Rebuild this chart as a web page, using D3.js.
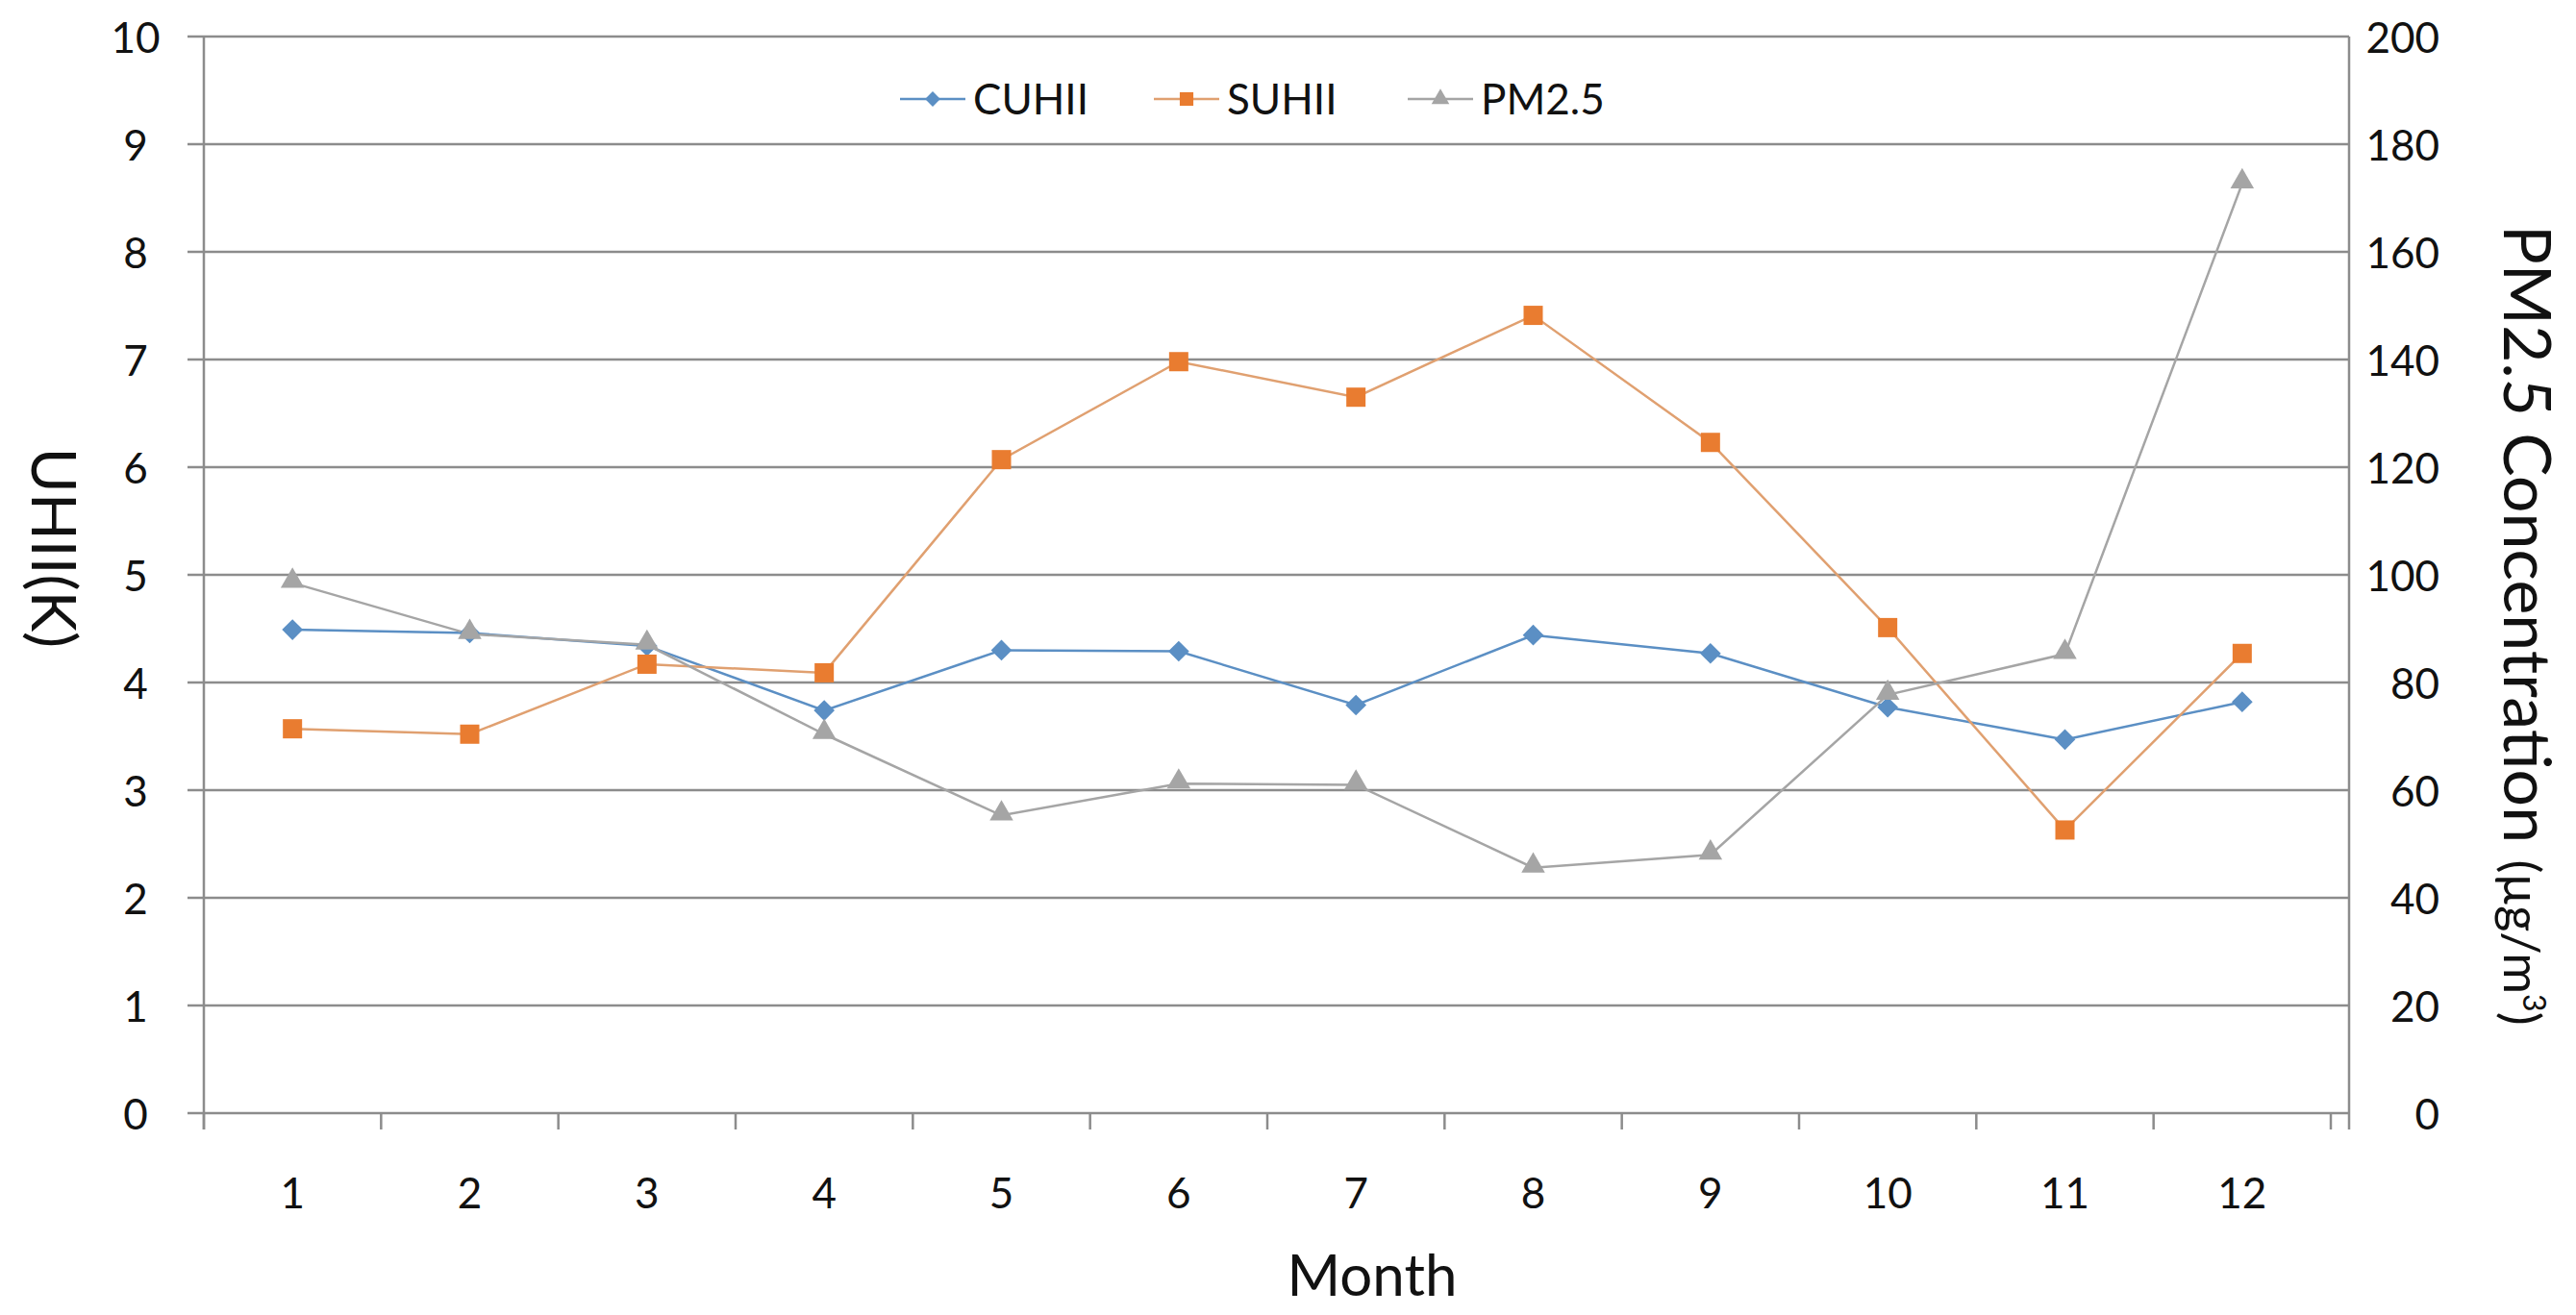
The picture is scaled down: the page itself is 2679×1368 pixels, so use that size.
<!DOCTYPE html>
<html>

<head>
    <script src="https://d3js.org/d3.v7.min.js"></script>
    <meta charset="utf-8">
    <style>
        body { margin: 0; background: #fff; }
        text { font-family: Lato, "Open Sans", sans-serif; fill: #111; }
    </style>
</head>

<body>
    <script>
        // values
        var months = [1, 2, 3, 4, 5, 6, 7, 8, 9, 10, 11, 12];
        var cuhii = [4.49, 4.46, 4.34, 3.74, 4.30, 4.29, 3.79, 4.44, 4.27, 3.77, 3.47, 3.82];
        var suhii = [3.57, 3.52, 4.17, 4.09, 6.07, 6.98, 6.65, 7.41, 6.23, 4.51, 2.63, 4.27];
        var pm25 = [98.5, 89.0, 87.0, 70.4, 55.3, 61.2, 61.0, 45.6, 48.0, 77.7, 85.3, 172.7];
        var leftTicks = [0, 1, 2, 3, 4, 5, 6, 7, 8, 9, 10];
        var rightTicks = [0, 20, 40, 60, 80, 100, 120, 140, 160, 180, 200];
        var seriesNames = ["CUHII", "SUHII", "PM2.5"];
        var seriesColors = ["#5b8fc4", "#e97c30", "#a5a5a5"];

        var width = 2679;
        var height = 1368;

        // plot box (note: "top" is taken by window.top, so use plot* names)
        var plotLeft = 212, plotRight = 2443, plotTop = 38, plotBottom = 1158;
        var catRight = 2424;
        var gridColor = "#8c8c8c";

        var svg = d3.select("body")
            .append("svg")
            .attr("width", width)
            .attr("height", height);

        var x = d3.scaleBand().domain(months).range([plotLeft, catRight]);
        var yL = d3.scaleLinear().domain([0, 10]).range([plotBottom, plotTop]);
        var yR = d3.scaleLinear().domain([0, 200]).range([plotBottom, plotTop]);

        // gridlines
        svg.append("g")
            .selectAll("line")
            .data(leftTicks)
            .enter()
            .append("line")
            .attr("x1", plotLeft - 17)
            .attr("x2", plotRight)
            .attr("y1", d => yL(d))
            .attr("y2", d => yL(d))
            .style("stroke", gridColor)
            .style("stroke-width", 2.5);

        // left axis labels
        var gLeft = svg.append("g")
            .attr("transform", "translate(" + plotLeft + ",0)")
            .call(d3.axisLeft(yL).tickValues(leftTicks).tickSize(0).tickFormat(d3.format("d")));
        gLeft.select(".domain").remove();
        gLeft.selectAll("text")
            .attr("x", 141 - plotLeft)
            .attr("dy", "0.38em")
            .attr("text-anchor", "middle")
            .style("font-size", "44px")
            .style("font-family", "Lato, sans-serif")
            .style("fill", "#111");

        // right axis labels
        var gRight = svg.append("g")
            .attr("transform", "translate(" + plotRight + ",0)")
            .call(d3.axisRight(yR).tickValues(rightTicks).tickSize(0).tickFormat(d3.format("d")));
        gRight.select(".domain").remove();
        gRight.selectAll("text")
            .attr("x", 2537 - plotRight)
            .attr("dy", "0.38em")
            .attr("text-anchor", "end")
            .style("font-size", "44px")
            .style("font-family", "Lato, sans-serif")
            .style("fill", "#111");

        // bottom axis labels at category centres
        var gBottom = svg.append("g")
            .attr("transform", "translate(0," + plotBottom + ")")
            .call(d3.axisBottom(x).tickSize(0));
        gBottom.select(".domain").remove();
        gBottom.selectAll("text")
            .attr("y", 82)
            .attr("dy", "0.38em")
            .style("font-size", "44px")
            .style("font-family", "Lato, sans-serif")
            .style("fill", "#111");

        // tick marks between categories
        svg.append("g")
            .selectAll("line")
            .data(d3.range(months.length + 1))
            .enter()
            .append("line")
            .attr("x1", d => plotLeft + d * x.step())
            .attr("x2", d => plotLeft + d * x.step())
            .attr("y1", plotBottom)
            .attr("y2", plotBottom + 17)
            .style("stroke", gridColor)
            .style("stroke-width", 2.5);

        // axis lines
        svg.append("line")
            .attr("x1", plotLeft).attr("x2", plotLeft)
            .attr("y1", plotTop).attr("y2", plotBottom + 17)
            .style("stroke", gridColor).style("stroke-width", 2.5);
        svg.append("line")
            .attr("x1", plotRight).attr("x2", plotRight)
            .attr("y1", plotTop).attr("y2", plotBottom + 17)
            .style("stroke", gridColor).style("stroke-width", 2.5);

        var cx = d => x(d) + x.bandwidth() / 2;

        // series lines
        function drawLine(values, scale, color) {
            var line = d3.line()
                .x((d, i) => cx(months[i]))
                .y(d => scale(d));
            svg.append("path")
                .datum(values)
                .attr("d", line)
                .style("fill", "none")
                .style("stroke", color)
                .style("stroke-width", 2.5);
        }
        drawLine(cuhii, yL, seriesColors[0]);
        drawLine(suhii, yL, "#e0a070");
        drawLine(pm25, yR, seriesColors[2]);

        // markers
        var diamond = d3.symbol().type(d3.symbolDiamond2).size(300);
        var square = d3.symbol().type(d3.symbolSquare).size(400);
        var triangle = d3.symbol().type(d3.symbolTriangle).size(260);

        svg.append("g").selectAll("path")
            .data(cuhii).enter().append("path")
            .attr("d", diamond)
            .attr("transform", (d, i) => "translate(" + cx(months[i]) + "," + yL(d) + ")")
            .style("fill", seriesColors[0]);

        svg.append("g").selectAll("path")
            .data(suhii).enter().append("path")
            .attr("d", square)
            .attr("transform", (d, i) => "translate(" + cx(months[i]) + "," + yL(d) + ")")
            .style("fill", seriesColors[1]);

        svg.append("g").selectAll("path")
            .data(pm25).enter().append("path")
            .attr("d", triangle)
            .attr("transform", (d, i) => "translate(" + cx(months[i]) + "," + (yR(d) - 2) + ")")
            .style("fill", seriesColors[2]);

        // legend
        var legendX = [936, 1200, 1464];
        var legendShapes = [
            d3.symbol().type(d3.symbolDiamond2).size(160),
            d3.symbol().type(d3.symbolSquare).size(200),
            d3.symbol().type(d3.symbolTriangle).size(150)
        ];
        var legend = svg.append("g")
            .selectAll("g")
            .data(seriesNames)
            .enter()
            .append("g")
            .attr("transform", (d, i) => "translate(" + legendX[i] + ",103)");
        legend.append("line")
            .attr("x1", 0).attr("x2", 68)
            .attr("y1", 0).attr("y2", 0)
            .style("stroke", (d, i) => i == 1 ? "#e0a070" : seriesColors[i])
            .style("stroke-width", 2.5);
        legend.append("path")
            .attr("d", (d, i) => legendShapes[i]())
            .attr("transform", "translate(34,0)")
            .style("fill", (d, i) => seriesColors[i]);
        legend.append("text")
            .attr("x", 76)
            .attr("dy", "0.36em")
            .style("font-size", "44px")
            .text(d => d);

        // axis titles
        svg.append("text")
            .attr("x", 1427)
            .attr("y", 1348)
            .attr("text-anchor", "middle")
            .style("font-size", "60px")
            .text("Month");

        svg.append("text")
            .attr("transform", "translate(33,570) rotate(90)")
            .attr("text-anchor", "middle")
            .style("font-size", "64px")
            .text("UHII(K)");

        var rTitle = svg.append("text")
            .attr("transform", "translate(2604,234) rotate(90)")
            .attr("text-anchor", "start");
        rTitle.append("tspan")
            .style("font-size", "68px")
            .text("PM2.5 Concentration ");
        rTitle.append("tspan")
            .style("font-size", "52px")
            .text("(µg/m");
        rTitle.append("tspan")
            .style("font-size", "32px")
            .attr("dy", -20)
            .text("3");
        rTitle.append("tspan")
            .style("font-size", "52px")
            .attr("dy", 20)
            .text(")");
    </script>
</body>

</html>
